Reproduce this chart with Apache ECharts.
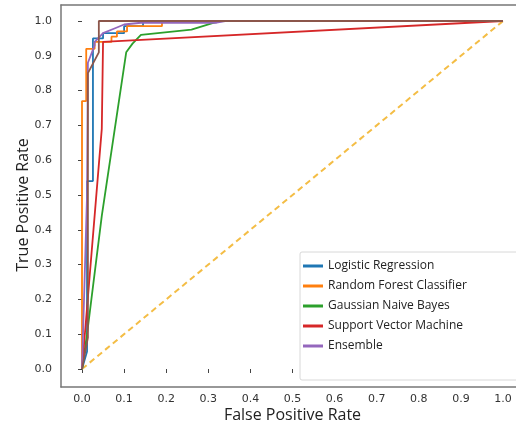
<!DOCTYPE html>
<html><head><meta charset="utf-8">
<script src="https://cdn.jsdelivr.net/npm/echarts@6/dist/echarts.min.js"></script>
<style>html,body{margin:0;padding:0;background:#fff}#c{width:516px;height:430px}</style>
</head><body><div id="c"></div>
<script>
// ROC curve points (FPR / TPR)
const fprLR  = [0, 0.012, 0.012, 0.026, 0.026, 0.05, 0.05, 0.1, 0.1, 0.145, 0.145, 1.0];
const tprLR  = [0, 0.05, 0.54, 0.54, 0.95, 0.95, 0.965, 0.965, 0.985, 0.985, 1.0, 1.0];
const fprRF  = [0, 0, 0.01, 0.01, 0.03, 0.03, 0.07, 0.07, 0.083, 0.083, 0.107, 0.107, 0.19, 0.19, 1.0];
const tprRF  = [0, 0.77, 0.77, 0.92, 0.92, 0.94, 0.94, 0.955, 0.955, 0.97, 0.97, 0.985, 0.985, 1.0, 1.0];
const fprGNB = [0, 0.012, 0.047, 0.105, 0.12, 0.14, 0.26, 0.31, 0.33, 1.0];
const tprGNB = [0, 0.1, 0.44, 0.91, 0.935, 0.96, 0.975, 0.994, 1.0, 1.0];
const fprSVM = [0, 0.047, 0.05, 1.0];
const tprSVM = [0, 0.69, 0.94, 1.0];
const fprENS = [0, 0.012, 0.014, 0.03, 0.03, 0.05, 0.08, 0.1, 0.14, 0.32, 0.34, 1.0];
const tprENS = [0, 0.5, 0.88, 0.93, 0.94, 0.965, 0.98, 0.99, 0.995, 0.995, 1.0, 1.0];
const fprExtra = [0, 0.014, 0.014, 0.04, 0.04, 1.0];
const tprExtra = [0, 0.09, 0.85, 0.91, 1.0, 1.0];
const fprChance = [0, 1];
const tprChance = [0, 1];

const legendNames = ['Logistic Regression', 'Random Forest Classifier', 'Gaussian Naive Bayes', 'Support Vector Machine', 'Ensemble'];

const colors = ['#1f77b4', '#ff7f0e', '#2ca02c', '#d62728', '#9467bd', '#8c564b'];
const zip = (a, b) => a.map((v, i) => [v, b[i]]);

function lineSeries(name, fpr, tpr, color, extra) {
  return Object.assign({
    name: name, type: 'line', xAxisIndex: 1, yAxisIndex: 1,
    data: zip(fpr, tpr), showSymbol: false, symbol: 'none', clip: false,
    lineStyle: { color: color, width: 1.8 }, itemStyle: { color: color },
    emphasis: { disabled: true }
  }, extra || {});
}

const spine = { show: true, lineStyle: { color: '#777', width: 1.5 } };
const frameAxis = (extra) => Object.assign({
  gridIndex: 0, type: 'value', min: 0, max: 1, axisLine: spine,
  axisTick: { show: false }, axisLabel: { show: false }, splitLine: { show: false }
}, extra);

const tickFont = 'DejaVu Sans, sans-serif';
const chart = echarts.init(document.getElementById('c'), null, { renderer: 'canvas' });
chart.setOption({
  animation: false,
  backgroundColor: '#fff',
  grid: [
    { left: 61, top: 5, width: 463, height: 382, outerBoundsMode: 'none', containLabel: false },
    { left: 82, top: 21, width: 421, height: 348, outerBoundsMode: 'none', containLabel: false }
  ],
  xAxis: [
    frameAxis({ position: 'bottom' }),
    { gridIndex: 1, type: 'value', min: 0, max: 1, interval: 0.1, offset: 18,
      axisLine: { show: false }, splitLine: { show: false },
      axisTick: { show: true, length: 4, lineStyle: { color: '#444', width: 1 } },
      axisLabel: { margin: 7, color: '#333', fontSize: 11, fontFamily: tickFont, formatter: v => v.toFixed(1) },
      name: 'False Positive Rate', nameLocation: 'middle', nameGap: 20, nameMoveOverlap: false,
      nameTextStyle: { fontSize: 16, color: '#222', fontFamily: 'Open Sans, sans-serif' } },
    frameAxis({ position: 'top' })
  ],
  yAxis: [
    frameAxis({ position: 'left' }),
    { gridIndex: 1, type: 'value', min: 0, max: 1, interval: 0.1, offset: 21,
      axisLine: { show: false }, splitLine: { show: false },
      axisTick: { show: true, length: 4, lineStyle: { color: '#444', width: 1 } },
      axisLabel: { margin: 9, color: '#333', fontSize: 11, fontFamily: tickFont, formatter: v => v.toFixed(1) },
      name: 'True Positive Rate', nameLocation: 'middle', nameGap: 30, nameMoveOverlap: false,
      nameTextStyle: { fontSize: 16, color: '#222', fontFamily: 'Open Sans, sans-serif', padding: [0, 20, 0, 0] } }
  ],
  legend: {
    data: legendNames, orient: 'vertical', left: 300, top: 252,
    padding: [7, 220, 27, 3], backgroundColor: '#fff', borderColor: '#d8d8d8', borderWidth: 1, borderRadius: 2,
    icon: 'rect', itemWidth: 20, itemHeight: 3, itemGap: 6,
    textStyle: { fontSize: 12, lineHeight: 14, color: '#222', fontFamily: 'Open Sans, sans-serif' }
  },
  series: [
    lineSeries('chance', fprChance, tprChance, '#f4bd45', { lineStyle: { color: '#f4bd45', width: 2, type: [6, 4] } }),
    lineSeries(legendNames[0], fprLR, tprLR, colors[0]),
    lineSeries(legendNames[1], fprRF, tprRF, colors[1]),
    lineSeries(legendNames[2], fprGNB, tprGNB, colors[2]),
    lineSeries(legendNames[3], fprSVM, tprSVM, colors[3]),
    lineSeries(legendNames[4], fprENS, tprENS, colors[4]),
    lineSeries('other', fprExtra, tprExtra, colors[5])
  ]
});
</script>
</body></html>
